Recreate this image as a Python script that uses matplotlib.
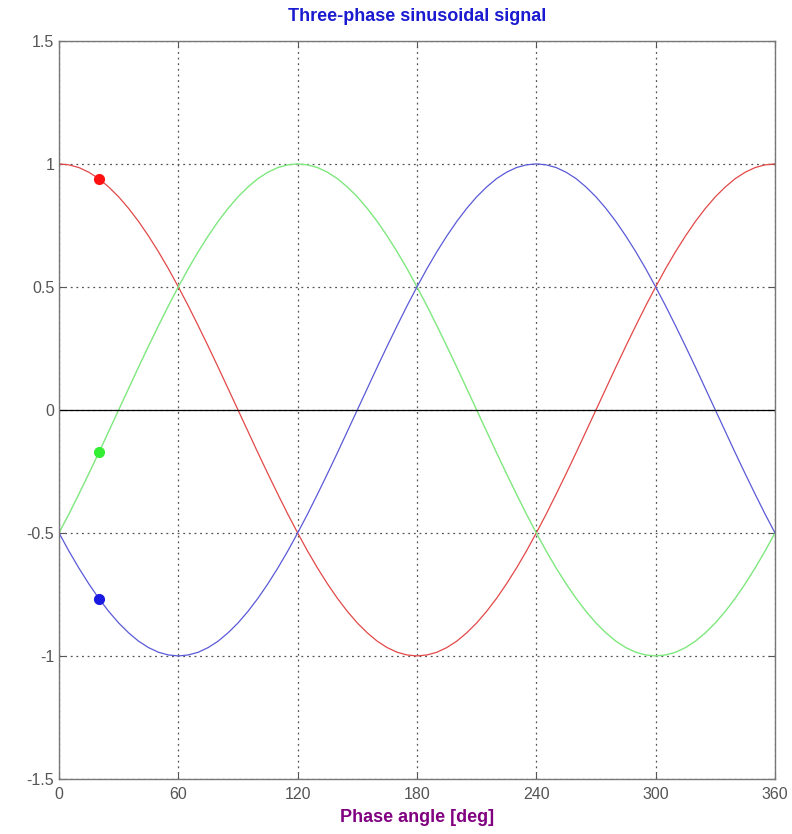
import matplotlib
matplotlib.use("Agg")
import matplotlib.pyplot as plt

plt.rcParams["font.family"] = ["Liberation Sans", "DejaVu Sans"]

# phase angle samples (deg) and values
angle = [0, 5, 10, 15, 20, 25, 30, 35, 40, 45, 50, 55, 60, 65, 70, 75, 80, 85,
         90, 95, 100, 105, 110, 115, 120, 125, 130, 135, 140, 145, 150, 155,
         160, 165, 170, 175, 180, 185, 190, 195, 200, 205, 210, 215, 220, 225,
         230, 235, 240, 245, 250, 255, 260, 265, 270, 275, 280, 285, 290, 295,
         300, 305, 310, 315, 320, 325, 330, 335, 340, 345, 350, 355, 360]
phase_a = [1.000, 0.996, 0.985, 0.966, 0.940, 0.906, 0.866, 0.819, 0.766, 0.707,
           0.643, 0.574, 0.500, 0.423, 0.342, 0.259, 0.174, 0.087, 0.000,
           -0.087, -0.174, -0.259, -0.342, -0.423, -0.500, -0.574, -0.643,
           -0.707, -0.766, -0.819, -0.866, -0.906, -0.940, -0.966, -0.985,
           -0.996, -1.000,
           -0.996, -0.985, -0.966, -0.940, -0.906, -0.866, -0.819, -0.766,
           -0.707, -0.643, -0.574, -0.500, -0.423, -0.342, -0.259, -0.174,
           -0.087, 0.000,
           0.087, 0.174, 0.259, 0.342, 0.423, 0.500, 0.574, 0.643, 0.707,
           0.766, 0.819, 0.866, 0.906, 0.940, 0.966, 0.985, 0.996, 1.000]
phase_b = [-0.500, -0.423, -0.342, -0.259, -0.174, -0.087, 0.000,
           0.087, 0.174, 0.259, 0.342, 0.423, 0.500, 0.574, 0.643, 0.707,
           0.766, 0.819, 0.866, 0.906, 0.940, 0.966, 0.985, 0.996, 1.000,
           0.996, 0.985, 0.966, 0.940, 0.906, 0.866, 0.819, 0.766, 0.707,
           0.643, 0.574, 0.500, 0.423, 0.342, 0.259, 0.174, 0.087, 0.000,
           -0.087, -0.174, -0.259, -0.342, -0.423, -0.500, -0.574, -0.643,
           -0.707, -0.766, -0.819, -0.866, -0.906, -0.940, -0.966, -0.985,
           -0.996, -1.000,
           -0.996, -0.985, -0.966, -0.940, -0.906, -0.866, -0.819, -0.766,
           -0.707, -0.643, -0.574, -0.500]
phase_c = [-0.500, -0.574, -0.643, -0.707, -0.766, -0.819, -0.866, -0.906,
           -0.940, -0.966, -0.985, -0.996, -1.000,
           -0.996, -0.985, -0.966, -0.940, -0.906, -0.866, -0.819, -0.766,
           -0.707, -0.643, -0.574, -0.500, -0.423, -0.342, -0.259, -0.174,
           -0.087, 0.000,
           0.087, 0.174, 0.259, 0.342, 0.423, 0.500, 0.574, 0.643, 0.707,
           0.766, 0.819, 0.866, 0.906, 0.940, 0.966, 0.985, 0.996, 1.000,
           0.996, 0.985, 0.966, 0.940, 0.906, 0.866, 0.819, 0.766, 0.707,
           0.643, 0.574, 0.500, 0.423, 0.342, 0.259, 0.174, 0.087, 0.000,
           -0.087, -0.174, -0.259, -0.342, -0.423, -0.500]

# current-position markers
marker_angle = 20
marker_a = 0.94
marker_b = -0.17
marker_c = -0.77

x_ticks = [0, 60, 120, 180, 240, 300, 360]
y_ticks = [-1.5, -1, -0.5, 0, 0.5, 1, 1.5]
y_labels = ["-1.5", "-1", "-0.5", "0", "0.5", "1", "1.5"]

fig = plt.figure(figsize=(7.92, 8.34), dpi=100)
ax = fig.add_axes([0.0745, 0.066, 0.904, 0.885])

ax.plot(angle, phase_a, color="#e34848", linewidth=0.9)
ax.plot(angle, phase_b, color="#7ee87e", linewidth=1.0)
ax.plot(angle, phase_c, color="#5a5ad8", linewidth=0.9)
ax.axhline(0, color="black", linewidth=0.9)

ax.plot(marker_angle, marker_a, "o", color="#ff1010", markersize=7)
ax.plot(marker_angle, marker_b, "o", color="#33ee33", markersize=7)
ax.plot(marker_angle, marker_c, "o", color="#1a1ae0", markersize=7)

ax.set_xlim(0, 360)
ax.set_ylim(-1.5, 1.5)
ax.set_xticks(x_ticks)
ax.set_yticks(y_ticks)
ax.set_yticklabels(y_labels)
ax.grid(True, color="#555555", linestyle=(0, (1.5, 3)), linewidth=0.9)
ax.tick_params(direction="in", length=4, colors="#555555", labelsize=11.5,
               top=True, right=True, labelcolor="#555555")
ax.tick_params(axis="x", pad=6)
for sp in ax.spines.values():
    sp.set_color("#777777")
    sp.set_linewidth(1.0)

ax.set_title("Three-phase sinusoidal signal", color="#1a1ad0",
             fontweight="bold", fontsize=13, pad=14)
ax.set_xlabel("Phase angle [deg]", color="#800080", fontweight="bold",
              fontsize=13, labelpad=5)

fig.savefig("out.png", dpi=100)
